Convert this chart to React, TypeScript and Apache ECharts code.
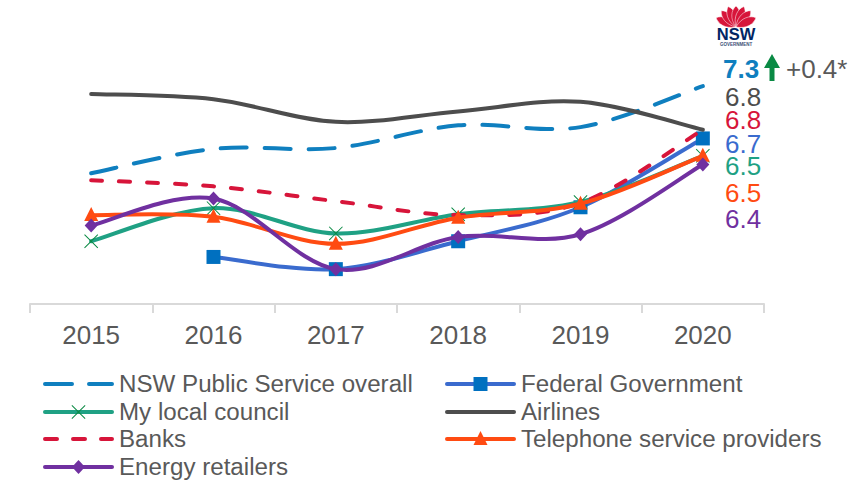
import React, { useEffect, useRef } from "react";
import * as echarts from "echarts";

const years = ["2015", "2016", "2017", "2018", "2019", "2020"];
const nswOverall = [6.3, 6.58, 6.59, 6.85, 6.83, 7.3];
const federal = [null, 5.34, 5.2, 5.52, 5.91, 6.7];
const localCouncil = [5.52, 5.9, 5.61, 5.83, 5.97, 6.5];
const airlines = [7.21, 7.15, 6.89, 7.01, 7.12, 6.8];
const banks = [6.22, 6.15, 5.98, 5.82, 5.96, 6.8];
const telephone = [5.82, 5.8, 5.49, 5.79, 5.95, 6.5];
const energy = [5.7, 6.01, 5.2, 5.57, 5.6, 6.4];

const FONT = "Liberation Sans";
const TEXT_GREY = "#595959";

type Marker = "none" | "square" | "cross" | "triangle" | "diamond";

const seriesDefs = [
  { name: "NSW Public Service overall", values: nswOverall, color: "#0f7fbf", dash: [26, 18], marker: "none", markerColor: "", legendCol: 0, legendRow: 0 },
  { name: "Federal Government", values: federal, color: "#3a6bce", dash: null, marker: "square", markerColor: "#0070c0", legendCol: 1, legendRow: 0 },
  { name: "My local council", values: localCouncil, color: "#1fa184", dash: null, marker: "cross", markerColor: "#0a8a44", legendCol: 0, legendRow: 1 },
  { name: "Airlines", values: airlines, color: "#4d4d4d", dash: null, marker: "none", markerColor: "", legendCol: 1, legendRow: 1 },
  { name: "Banks", values: banks, color: "#d7153a", dash: [11, 17], marker: "none", markerColor: "", legendCol: 0, legendRow: 2 },
  { name: "Telephone service providers", values: telephone, color: "#ff4b12", dash: null, marker: "triangle", markerColor: "#ff4b12", legendCol: 1, legendRow: 2 },
  { name: "Energy retailers", values: energy, color: "#7030a0", dash: null, marker: "diamond", markerColor: "#7030a0", legendCol: 0, legendRow: 3 },
];

const endLabels = [
  { text: "6.8", color: "#4d4d4d", y: 97 },
  { text: "6.8", color: "#d7153a", y: 120 },
  { text: "6.7", color: "#3a6bce", y: 144 },
  { text: "6.5", color: "#1fa184", y: 166 },
  { text: "6.5", color: "#ff4b12", y: 193 },
  { text: "6.4", color: "#7030a0", y: 219 },
];

const legendRows = [384, 412, 439, 467];
const legendCols = [43, 445];

const petal = "M0 0C-4 -4 -3 -8 0 -10C3 -8 4 -4 0 0Z";
echarts.graphic.registerShape("nswPetal", (echarts.graphic as any).extendPath(petal, {}));

// One marker glyph centred on a point, as a plain shape element.
function markerEl(kind: Marker, cx: number, cy: number, color: string) {
  const style = { fill: color };
  if (kind === "square") {
    return { type: "rect", shape: { x: cx - 7, y: cy - 7, width: 14, height: 14 }, style };
  }
  if (kind === "triangle") {
    return { type: "polygon", shape: { points: [[cx, cy - 8], [cx + 7, cy + 6], [cx - 7, cy + 6]] }, style };
  }
  if (kind === "diamond") {
    return { type: "polygon", shape: { points: [[cx, cy - 7], [cx + 6.5, cy], [cx, cy + 7], [cx - 6.5, cy]] }, style };
  }
  const a = 7;
  const t = 0.7;
  return {
    type: "polygon",
    shape: {
      points: [
        [cx - a, cy - a + t], [cx - a + t, cy - a], [cx, cy - t], [cx + a - t, cy - a], [cx + a, cy - a + t],
        [cx + t, cy], [cx + a, cy + a - t], [cx + a - t, cy + a], [cx, cy + t], [cx - a + t, cy + a],
        [cx - a, cy + a - t], [cx - t, cy],
      ],
    },
    style,
  };
}

// Cubic segments whose tangents follow the neighbouring points, so a curve may
// run past a data point before turning back.
function smoothPath(pts: number[][]) {
  let d = `M${pts[0][0]} ${pts[0][1]}`;
  for (let i = 0; i < pts.length - 1; i++) {
    const p0 = pts[Math.max(i - 1, 0)];
    const p1 = pts[i];
    const p2 = pts[i + 1];
    const p3 = pts[Math.min(i + 2, pts.length - 1)];
    const c1x = p1[0] + (p2[0] - p0[0]) / 6;
    const c1y = p1[1] + (p2[1] - p0[1]) / 6;
    const c2x = p2[0] - (p3[0] - p1[0]) / 6;
    const c2y = p2[1] - (p3[1] - p1[1]) / 6;
    d += `C${c1x} ${c1y} ${c2x} ${c2y} ${p2[0]} ${p2[1]}`;
  }
  return d;
}

function curveSeries(def: (typeof seriesDefs)[number]) {
  const rows = def.values
    .map((v, i) => (v === null ? null : [i, v]))
    .filter((r) => r !== null) as number[][];
  return {
    name: def.name,
    type: "custom",
    coordinateSystem: "cartesian2d",
    encode: { x: 0, y: 1 },
    data: rows,
    clip: false,
    renderItem: (params: any, api: any) => {
      const here = api.coord([api.value(0), api.value(1)]);
      const children: any[] = [];
      if (params.dataIndex === 0) {
        const pts = rows.map((r) => api.coord(r));
        children.push({
          type: "path",
          shape: { pathData: smoothPath(pts) },
          style: {
            fill: "none",
            stroke: def.color,
            lineWidth: 4,
            lineCap: "round",
            lineJoin: "round",
            lineDash: def.dash || undefined,
          },
        });
      }
      if (def.marker !== "none") {
        children.push(markerEl(def.marker as Marker, here[0], here[1], def.markerColor));
      }
      return { type: "group", children };
    },
  };
}

function legendEls() {
  const els: any[] = [];
  seriesDefs.forEach((def) => {
    const x = legendCols[def.legendCol];
    const y = legendRows[def.legendRow];
    els.push({
      type: "line",
      shape: { x1: x + 2, y1: y, x2: x + 69, y2: y },
      style: { stroke: def.color, lineWidth: 4, lineCap: "round", lineDash: def.dash ? (def.dash[0] > 20 ? [27, 17] : [12, 16]) : undefined },
    });
    if (def.marker !== "none") {
      els.push(markerEl(def.marker as Marker, x + 35.5, y, def.markerColor));
    }
    els.push({
      type: "text",
      x: x + 76,
      y: y - 1,
      style: { text: def.name, fontFamily: FONT, fontSize: 24.15, fill: TEXT_GREY, verticalAlign: "middle", lineHeight: 26 },
    });
  });
  return els;
}

export default function App() {
  const ref = useRef<HTMLDivElement>(null);
  useEffect(() => {
    const chart = echarts.init(ref.current!, undefined, { renderer: "svg" });
    const petals = [-65, -42, -21, 0, 21, 42, 65].map((deg) => ({
      type: "nswPetal",
      x: 736,
      y: 27,
      rotation: (-deg * Math.PI) / 180,
      scaleX: 1.6,
      scaleY: deg === 0 ? 2.1 : 2.2,
      style: { fill: "#d7153a", stroke: "#ffffff", lineWidth: 0.25 },
    }));
    chart.setOption({
      animation: false,
      backgroundColor: "#ffffff",
      grid: { left: 30, right: 87, top: 60, bottom: 177 },
      xAxis: {
        type: "category",
        data: years,
        boundaryGap: true,
        axisLine: { lineStyle: { color: "#d9d9d9", width: 2 } },
        axisTick: { show: true, alignWithLabel: false, length: 9, lineStyle: { color: "#d9d9d9", width: 2 } },
        axisLabel: { fontFamily: FONT, fontSize: 26, color: TEXT_GREY, margin: 18 },
      },
      yAxis: { type: "value", min: 4.8, max: 7.6, show: false },
      series: seriesDefs.map(curveSeries),
      graphic: [
        ...petals,
        { type: "text", x: 736, y: 25.5, style: { text: "NSW", fontFamily: FONT, fontWeight: "bold", fontSize: 16.5, fill: "#002664", align: "center" } },
        { type: "text", x: 736, y: 42, style: { text: "GOVERNMENT", fontFamily: FONT, fontWeight: "bold", fontSize: 4.5, fill: "#3b4f78", align: "center" } },
        { type: "text", x: 723, y: 56, style: { text: "7.3", fontFamily: FONT, fontWeight: "bold", fontSize: 26, fill: "#0f7fbf" } },
        { type: "polygon", shape: { points: [[772, 54], [780, 68], [774.5, 68], [774.5, 81], [769.5, 81], [769.5, 68], [764, 68]] }, style: { fill: "#0a8a44" } },
        { type: "text", x: 786, y: 56, style: { text: "+0.4*", fontFamily: FONT, fontSize: 26, fill: TEXT_GREY } },
        ...endLabels.map((l) => ({
          type: "text",
          x: 725,
          y: l.y,
          style: { text: l.text, fontFamily: FONT, fontSize: 26, fill: l.color, verticalAlign: "middle", lineHeight: 20 },
        })),
        ...legendEls(),
      ],
    });
    return () => chart.dispose();
  }, []);
  return <div ref={ref} style={{ position: "fixed", left: 0, top: 0, width: 851, height: 481 }} />;
}
